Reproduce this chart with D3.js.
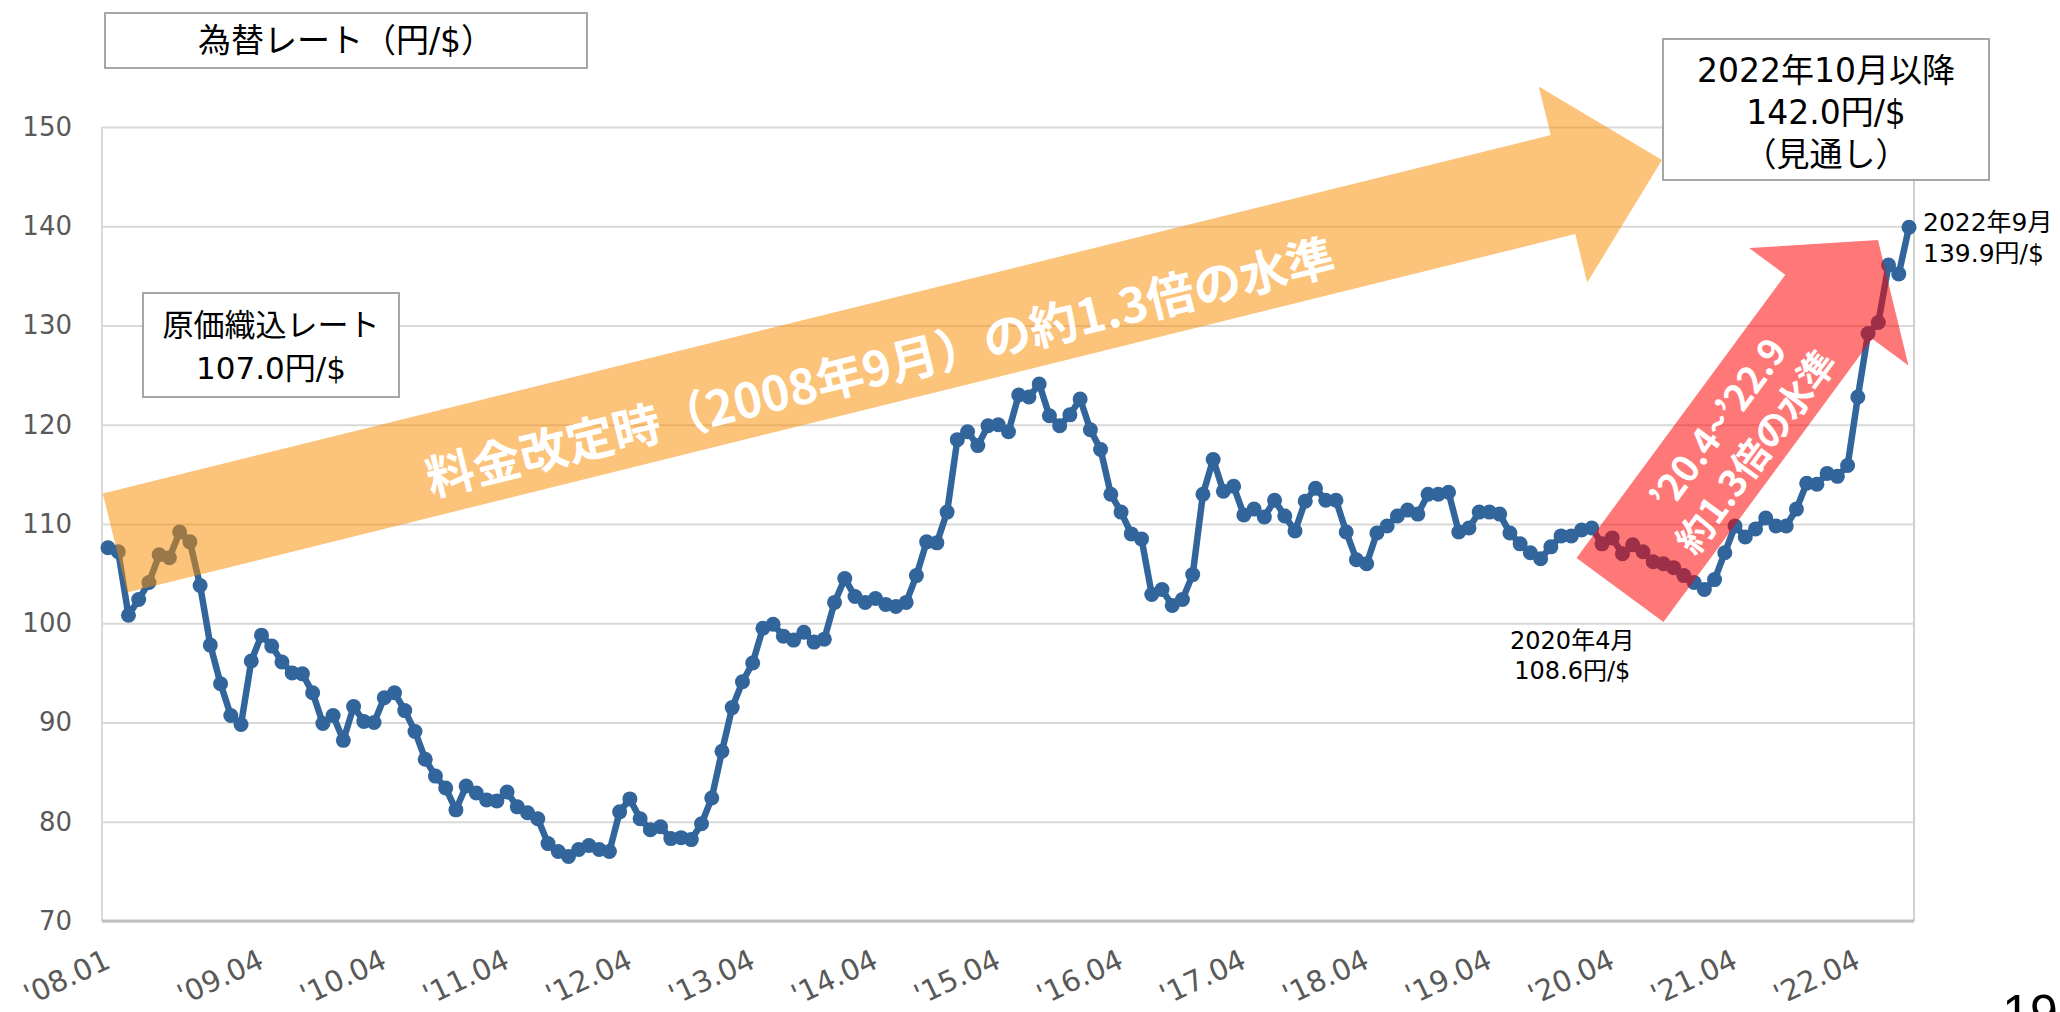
<!DOCTYPE html>
<html>
<head>
<meta charset="utf-8">
<script src="https://cdn.jsdelivr.net/npm/d3@7"></script>
<style>
html, body { margin: 0; padding: 0; background: #fff; }
svg { display: block; }
</style>
</head>
<body>
<svg id="chart" width="2060" height="1012"></svg>
<script>
'use strict';

// 為替レート 月次 (円/$), 2008.01 - 2022.09
var rates = [
    107.6, 107.2, 100.8, 102.4, 104.1, 106.9, 106.6, 109.2, 108.2, 103.8, 97.8, 93.9,   // 2008
    90.7, 89.8, 96.2, 98.8, 97.7, 96.1, 95.0, 94.9, 93.0, 89.9, 90.7, 88.2,             // 2009
    91.6, 90.1, 90.0, 92.5, 93.0, 91.2, 89.1, 86.3, 84.6, 83.4, 81.2, 83.6,             // 2010
    82.9, 82.2, 82.1, 83.0, 81.5, 80.9, 80.3, 77.8, 77.0, 76.5, 77.2, 77.6,             // 2011
    77.2, 77.0, 81.0, 82.3, 80.3, 79.2, 79.5, 78.3, 78.4, 78.2, 79.8, 82.4,             // 2012
    87.1, 91.5, 94.1, 96.0, 99.5, 99.9, 98.7, 98.3, 99.1, 98.1, 98.4, 102.1,            // 2013
    104.5, 102.7, 102.1, 102.5, 101.9, 101.7, 102.1, 104.8, 108.2, 108.1, 111.2, 118.5, // 2014
    119.3, 117.9, 119.9, 120.0, 119.3, 123.0, 122.8, 124.1, 120.9, 119.9, 121.0, 122.6, // 2015
    119.5, 117.5, 113.0, 111.2, 109.0, 108.5, 102.9, 103.4, 101.8, 102.4, 104.9, 113.0, // 2016
    116.5, 113.3, 113.8, 110.9, 111.5, 110.7, 112.4, 110.8, 109.3, 112.3, 113.6, 112.4, // 2017
    112.4, 109.2, 106.4, 106.0, 109.1, 109.8, 110.8, 111.4, 111.0, 113.0, 113.0, 113.2, // 2018
    109.2, 109.6, 111.2, 111.2, 111.0, 109.1, 108.0, 107.1, 106.5, 107.7, 108.8, 108.8, // 2019
    109.4, 109.6, 108.0, 108.6, 107.0, 107.9, 107.2, 106.2, 106.0, 105.6, 104.8, 104.1, // 2020
    103.4, 104.4, 107.1, 109.8, 108.7, 109.5, 110.6, 109.8, 109.8, 111.5, 114.1, 114.0, // 2021
    115.1, 114.8, 115.9, 122.8, 129.2, 130.3, 136.1, 135.2, 139.9                       // 2022
];
var startYear = 2008;

var tickLabels = ["'08.01", "'09.04", "'10.04", "'11.04", "'12.04", "'13.04", "'14.04",
    "'15.04", "'16.04", "'17.04", "'18.04", "'19.04", "'20.04", "'21.04", "'22.04"];
var yTicks = [70, 80, 90, 100, 110, 120, 130, 140, 150];

var baseRateLines = ['原価織込レート', '107.0円/$'];
var outlookLines = ['2022年10月以降', '142.0円/$', '（見通し）'];
var startNoteLines = ['2020年4月', '108.6円/$'];
var lastNoteLines = ['2022年9月', '139.9円/$'];
var bigArrowText = '料金改定時（2008年9月）の約1.3倍の水準';
var smallArrowLines = ['’20.4~’22.9', '約1.3倍の水準'];

var JP = '"Noto Sans CJK JP", sans-serif',
    NUM = '"DejaVu Sans", "Noto Sans CJK JP", sans-serif';

var plot = {left: 102, right: 1914, top: 127, bottom: 921};

function catKey(i) {
    var yr = startYear + Math.floor(i / 12),
        m = i % 12 + 1;
    return yr + '-' + (m < 10 ? '0' : '') + m;
}
var categories = rates.map(function(_, i) { return catKey(i); });

function labelKey(lbl) {
    var p = lbl.replace("'", '').split('.');
    return (2000 + +p[0]) + '-' + p[1];
}

var x = d3.scalePoint().domain(categories).range([108, 1909]);
var y = d3.scaleLinear().domain([70, 150]).range([plot.bottom, plot.top]);

var svg = d3.select('#chart');

// gridlines + y labels
var yAxis = svg.append('g')
    .attr('transform', 'translate(' + plot.left + ',0)')
    .call(d3.axisLeft(y).tickValues(yTicks)
        .tickSize(-(plot.right - plot.left)).tickPadding(30));
yAxis.select('.domain').remove();
yAxis.selectAll('.tick line').attr('stroke', '#d9d9d9').attr('stroke-width', 2);
yAxis.selectAll('.tick text')
    .attr('fill', '#595959')
    .style('font-family', NUM)
    .style('font-size', '26px');

// plot frame
svg.append('line')
    .attr('x1', plot.left).attr('x2', plot.left)
    .attr('y1', plot.top).attr('y2', plot.bottom)
    .attr('stroke', '#d9d9d9').attr('stroke-width', 2);
svg.append('line')
    .attr('x1', plot.right).attr('x2', plot.right)
    .attr('y1', plot.top).attr('y2', plot.bottom)
    .attr('stroke', '#d0d0d0').attr('stroke-width', 2);
svg.append('line')
    .attr('x1', plot.left).attr('x2', plot.right)
    .attr('y1', plot.bottom).attr('y2', plot.bottom)
    .attr('stroke', '#bfbfbf').attr('stroke-width', 3);

// x labels, slanted
svg.append('g').selectAll('text')
        .data(tickLabels)
    .enter().append('text')
    .attr('transform', function(d) {
        return 'translate(' + x(labelKey(d)) + ',958) rotate(-25)';
    })
    .attr('text-anchor', 'end')
    .attr('dominant-baseline', 'central')
    .attr('fill', '#595959')
    .style('font-family', NUM)
    .style('font-size', '29px')
    .text(function(d) { return d; });

// the series
var lineColor = '#31659b';
var line = d3.line()
    .x(function(d, i) { return x(categories[i]); })
    .y(function(d) { return y(d); });

svg.append('path')
    .datum(rates)
    .attr('d', line)
    .attr('fill', 'none')
    .attr('stroke', lineColor)
    .attr('stroke-width', 6.5)
    .attr('stroke-linejoin', 'round');

svg.append('g').selectAll('circle')
        .data(rates)
    .enter().append('circle')
    .attr('cx', function(d, i) { return x(categories[i]); })
    .attr('cy', function(d) { return y(d); })
    .attr('r', 7.5)
    .attr('fill', lineColor);

// block arrows (translucent, drawn over the line)
function arrowShape(len, shaft, head, headLen) {
    var b = len - headLen;
    return ['M0,', -shaft, 'L', b, ',', -shaft, 'L', b, ',', -head,
        'L', len, ',0L', b, ',', head, 'L', b, ',', shaft, 'L0,', shaft, 'Z'].join('');
}

function drawArrow(tail, tip, shaft, head, headLen, fill, opacity) {
    var dx = tip[0] - tail[0], dy = tip[1] - tail[1],
        len = Math.sqrt(dx * dx + dy * dy),
        ang = Math.atan2(dy, dx) * 180 / Math.PI;
    var g = svg.append('g')
        .attr('transform', 'translate(' + tail + ') rotate(' + ang + ')');
    g.append('path')
        .attr('d', arrowShape(len, shaft, head, headLen))
        .attr('fill', fill)
        .attr('fill-opacity', opacity);
    return g;
}

var bigArrow = drawArrow([115, 543], [1662, 160], 51, 101, 102, '#fa8c00', 0.52);
bigArrow.append('text')
    .attr('x', 785).attr('y', 10)
    .attr('text-anchor', 'middle')
    .attr('dominant-baseline', 'central')
    .attr('fill', '#fff')
    .style('font-family', JP)
    .style('font-weight', 700)
    .style('font-size', '48px')
    .text(bigArrowText);

var smallArrow = drawArrow([1620, 590], [1878, 240], 54, 99, 83, '#ff0000', 0.53);
smallArrow.selectAll('text')
        .data(smallArrowLines)
    .enter().append('text')
    .attr('x', 192)
    .attr('y', function(d, i) { return i ? 25 : -22; })
    .attr('text-anchor', 'middle')
    .attr('dominant-baseline', 'central')
    .attr('fill', '#fff')
    .style('font-family', JP)
    .style('font-weight', 700)
    .style('font-size', '37px')
    .text(function(d) { return d; });

// boxed labels
function textBox(x0, y0, w, h, lines, size, lineGap, firstY) {
    var g = svg.append('g');
    g.append('rect')
        .attr('x', x0).attr('y', y0)
        .attr('width', w).attr('height', h)
        .attr('fill', '#fff')
        .attr('stroke', '#a6a6a6')
        .attr('stroke-width', 2);
    g.selectAll('text')
            .data(lines)
        .enter().append('text')
        .attr('x', x0 + w / 2)
        .attr('y', function(d, i) { return firstY + i * lineGap; })
        .attr('text-anchor', 'middle')
        .attr('dominant-baseline', 'central')
        .attr('fill', '#000')
        .style('font-family', NUM)
        .style('font-size', size + 'px')
        .text(function(d) { return d; });
}

textBox(105, 13, 482, 55, ['為替レート（円/$）'], 33, 0, 40);
textBox(143, 293, 256, 104, baseRateLines, 31, 43, 325);
textBox(1663, 39, 326, 141, outlookLines, 33, 42, 70);

// point notes
var i2004 = categories.indexOf('2020-04'),
    iLast = rates.length - 1;

svg.append('g').selectAll('text')
        .data(startNoteLines)
    .enter().append('text')
    .attr('x', x(categories[i2004]) - 40)
    .attr('y', function(d, i) { return y(rates[i2004]) + 103 + i * 30; })
    .attr('text-anchor', 'middle')
    .attr('dominant-baseline', 'central')
    .style('font-family', NUM)
    .style('font-size', '24px')
    .text(function(d) { return d; });

svg.append('g').selectAll('text')
        .data(lastNoteLines)
    .enter().append('text')
    .attr('x', x(categories[iLast]) + 14)
    .attr('y', function(d, i) { return y(rates[iLast]) - 5 + i * 31; })
    .attr('text-anchor', 'start')
    .attr('dominant-baseline', 'central')
    .style('font-family', NUM)
    .style('font-size', '25px')
    .text(function(d) { return d; });

// page number (cut at the bottom edge, as on the slide)
svg.append('text')
    .attr('x', 2030).attr('y', 1030)
    .attr('text-anchor', 'middle')
    .style('font-family', '"Liberation Sans", sans-serif')
    .style('font-size', '50px')
    .text('19');
</script>
</body>
</html>
